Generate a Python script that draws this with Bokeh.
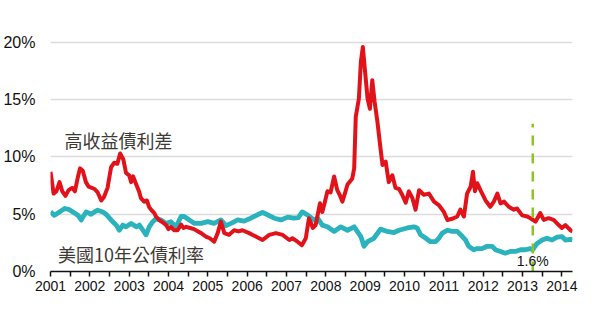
from bokeh.plotting import figure
from bokeh.models import Range1d, FixedTicker, Label, ColumnDataSource
from bokeh.embed import file_html
from bokeh.resources import INLINE

# High-yield spread (%)
hy_year = [2001.00, 2001.08, 2001.15, 2001.23, 2001.30, 2001.38, 2001.46, 2001.55, 2001.62, 2001.70,
           2001.75, 2001.82, 2001.90, 2001.97, 2002.05, 2002.12, 2002.20, 2002.29, 2002.36, 2002.45,
           2002.54, 2002.62, 2002.70, 2002.77, 2002.85, 2002.92, 2003.00, 2003.05, 2003.10, 2003.18,
           2003.25, 2003.30, 2003.38, 2003.45, 2003.51, 2003.58, 2003.64, 2003.68, 2003.76, 2003.85,
           2003.94, 2004.00, 2004.06, 2004.14, 2004.23, 2004.32, 2004.38, 2004.45, 2004.55, 2004.65,
           2004.75, 2004.83, 2004.95, 2005.05, 2005.16, 2005.25, 2005.33, 2005.42, 2005.54, 2005.67,
           2005.78, 2005.88, 2006.05, 2006.22, 2006.39, 2006.56, 2006.73, 2006.90, 2007.07, 2007.15,
           2007.28, 2007.39, 2007.49, 2007.57, 2007.67, 2007.74, 2007.85, 2007.91, 2007.97, 2008.04,
           2008.12, 2008.21, 2008.29, 2008.35, 2008.42, 2008.50, 2008.55, 2008.67, 2008.72, 2008.76,
           2008.84, 2008.89, 2008.94, 2008.99, 2009.06, 2009.12, 2009.18, 2009.24, 2009.31, 2009.37,
           2009.44, 2009.52, 2009.60, 2009.69, 2009.77, 2009.86, 2009.94, 2010.03, 2010.11, 2010.20,
           2010.28, 2010.37, 2010.49, 2010.62, 2010.75, 2010.87, 2011.00, 2011.09, 2011.21, 2011.34,
           2011.42, 2011.51, 2011.59, 2011.68, 2011.74, 2011.79, 2011.85, 2011.93, 2012.06, 2012.18,
           2012.27, 2012.36, 2012.44, 2012.53, 2012.65, 2012.78, 2012.86, 2012.99, 2013.12, 2013.20,
           2013.33, 2013.45, 2013.54, 2013.66, 2013.79, 2013.92, 2014.00, 2014.09, 2014.22, 2014.27]
hy_spread = [8.7, 6.8, 7.0, 7.8, 7.0, 6.6, 7.1, 7.3, 7.0, 8.3,
             9.0, 8.8, 7.8, 7.4, 7.3, 7.2, 6.9, 6.2, 6.5, 7.3,
             9.1, 9.5, 9.4, 10.3, 9.8, 8.6, 8.4, 7.8, 8.3, 7.6,
             7.0, 6.4, 6.1, 6.2, 5.6, 5.3, 5.1, 4.8, 4.5, 4.3,
             4.05, 3.7, 3.9, 3.6, 3.6, 4.1, 3.8, 3.9, 3.8, 3.7,
             3.5, 3.35, 3.05, 2.9, 2.6, 3.35, 4.35, 3.35, 3.2, 3.6,
             3.5, 3.6, 3.35, 3.05, 2.75, 3.2, 3.35, 3.2, 2.75, 2.9,
             2.6, 2.3, 2.9, 4.65, 3.8, 4.05, 5.95, 5.2, 6.0, 7.0,
             6.9, 8.3, 7.1, 6.7, 6.1, 7.0, 7.6, 8.1, 9.0, 13.5,
             15.1, 18.3, 19.6, 17.7, 15.1, 14.2, 16.7, 14.8, 13.1, 11.3,
             9.3, 9.6, 7.8, 8.4, 7.3, 7.2, 6.7, 6.0, 7.0, 6.4,
             5.4, 7.1, 6.7, 6.8, 6.1, 5.8, 5.2, 4.5, 4.6, 4.8,
             5.4, 4.8, 6.8, 7.4, 8.7, 7.0, 7.7, 7.1, 6.2, 5.65,
             6.1, 6.8, 5.95, 6.1, 5.65, 5.4, 5.5, 4.9, 4.8, 4.65,
             4.35, 5.1, 4.5, 4.65, 4.5, 4.05, 3.8, 4.05, 3.6, 3.5]

# US 10-year Treasury yield (%)
ust_year = [2001.00, 2001.10, 2001.23, 2001.36, 2001.48, 2001.61, 2001.70, 2001.78, 2001.85, 2001.91,
            2002.03, 2002.12, 2002.20, 2002.33, 2002.41, 2002.54, 2002.67, 2002.75, 2002.84, 2002.92,
            2003.05, 2003.18, 2003.26, 2003.35, 2003.43, 2003.51, 2003.60, 2003.68, 2003.81, 2003.94,
            2004.06, 2004.19, 2004.32, 2004.40, 2004.53, 2004.66, 2004.83, 2005.00, 2005.16, 2005.33,
            2005.46, 2005.59, 2005.76, 2005.92, 2006.09, 2006.26, 2006.39, 2006.52, 2006.69, 2006.86,
            2007.03, 2007.19, 2007.30, 2007.40, 2007.53, 2007.70, 2007.79, 2007.91, 2008.04, 2008.21,
            2008.38, 2008.55, 2008.72, 2008.89, 2008.97, 2009.06, 2009.22, 2009.39, 2009.56, 2009.73,
            2009.86, 2010.07, 2010.24, 2010.32, 2010.41, 2010.54, 2010.66, 2010.79, 2010.87, 2010.96,
            2011.09, 2011.21, 2011.34, 2011.47, 2011.55, 2011.63, 2011.76, 2011.85, 2011.97, 2012.10,
            2012.23, 2012.31, 2012.44, 2012.56, 2012.69, 2012.82, 2012.95, 2013.07, 2013.20, 2013.26,
            2013.37, 2013.50, 2013.62, 2013.75, 2013.88, 2014.00, 2014.09, 2014.22, 2014.27]
ust_yield = [5.2, 4.9, 5.2, 5.5, 5.4, 5.1, 4.9, 4.5, 4.9, 5.2,
             5.0, 5.2, 5.35, 5.2, 5.0, 4.5, 4.05, 3.6, 4.05, 3.9,
             4.2, 3.9, 4.05, 3.6, 3.2, 3.9, 4.35, 4.6, 4.5, 4.2,
             4.35, 3.9, 4.8, 4.8, 4.5, 4.2, 4.2, 4.35, 4.2, 4.5,
             4.0, 4.2, 4.5, 4.4, 4.65, 4.95, 5.15, 4.95, 4.65, 4.5,
             4.75, 4.65, 4.7, 5.2, 4.95, 4.5, 4.65, 4.05, 3.9, 3.5,
             3.9, 3.6, 3.9, 3.05, 2.2, 2.6, 2.9, 3.7, 3.5, 3.4,
             3.6, 3.8, 3.9, 3.8, 3.2, 2.9, 2.6, 2.6, 2.9, 3.35,
             3.6, 3.5, 3.5, 3.05, 2.75, 2.2, 1.9, 2.0, 2.0, 2.2,
             2.2, 1.9, 1.75, 1.6, 1.75, 1.75, 1.9, 1.9, 2.0, 1.9,
             2.45, 2.75, 2.9, 2.75, 3.0, 3.05, 2.75, 2.8, 2.75]

y_ticks = [0, 5, 10, 15, 20]
y_tick_labels = {0: "0%", 5: "5%", 10: "10%", 15: "15%", 20: "20%"}
x_ticks = list(range(2001, 2015))
x_minor = [y + 0.5 for y in range(2000, 2015)]

marker_year = 2013.26
marker_top = 12.9
marker_label = "1.6%"
series_labels = ["高收益債利差", "美國10年公債利率"]

p = figure(width=600, height=327, output_backend="svg", toolbar_location=None,
           x_range=Range1d(2001.0, 2014.27), y_range=Range1d(0, 20.6),
           min_border_left=49, min_border_right=28, min_border_top=35, min_border_bottom=56)
p.outline_line_color = None
p.background_fill_color = "white"
p.border_fill_color = "white"

# x axis
xa = p.xaxis[0]
xa.ticker = FixedTicker(ticks=x_ticks, minor_ticks=x_minor)
xa.axis_line_color = "#111111"
xa.axis_line_width = 1.5
xa.major_tick_line_color = "#111111"
xa.major_tick_line_width = 1.5
xa.major_tick_in = 0
xa.major_tick_out = 5
xa.minor_tick_line_color = "#111111"
xa.minor_tick_line_width = 1.5
xa.minor_tick_in = 0
xa.minor_tick_out = 5
xa.major_label_text_font = "Liberation Sans"
xa.major_label_text_font_size = "14px"
xa.major_label_text_color = "#111111"
xa.major_label_standoff = 4

# y axis
ya = p.yaxis[0]
ya.ticker = FixedTicker(ticks=y_ticks)
ya.major_label_overrides = y_tick_labels
ya.axis_line_color = None
ya.major_tick_line_color = None
ya.minor_tick_line_color = None
ya.major_label_text_font = "Liberation Sans"
ya.major_label_text_font_size = "16px"
ya.major_label_text_color = "#111111"
ya.major_label_standoff = 9

p.xgrid.grid_line_color = None
p.ygrid.grid_line_color = "#dcdcdc"
p.ygrid.grid_line_width = 1.5

ust_src = ColumnDataSource(dict(x=ust_year, y=ust_yield))
hy_src = ColumnDataSource(dict(x=hy_year, y=hy_spread))
p.line("x", "y", source=ust_src, line_color="#2ab2bd", line_width=4.8, line_join="round")
p.line("x", "y", source=hy_src, line_color="#e2121b", line_width=4.0, line_join="round")

# marker dashed line
p.segment(x0=[marker_year], y0=[0], x1=[marker_year], y1=[marker_top],
          line_color="#8cc421", line_width=2.5, line_dash="10 8")

p.add_layout(Label(x=2001.355, y=11.5, text=series_labels[0], text_font="Noto Sans CJK TC",
                   text_font_size="18px", text_color="#3d3935", text_baseline="middle"))
p.add_layout(Label(x=2001.19, y=1.5, text=series_labels[1], text_font="Noto Sans CJK TC",
                   text_font_size="18px", text_color="#3d3935", text_baseline="middle"))
p.add_layout(Label(x=marker_year, y=0.9, text=marker_label, text_font="Liberation Sans",
                   text_font_size="14px", text_color="#111111", text_baseline="middle",
                   text_align="center"))

open("out.html", "w").write(file_html(p, INLINE))
